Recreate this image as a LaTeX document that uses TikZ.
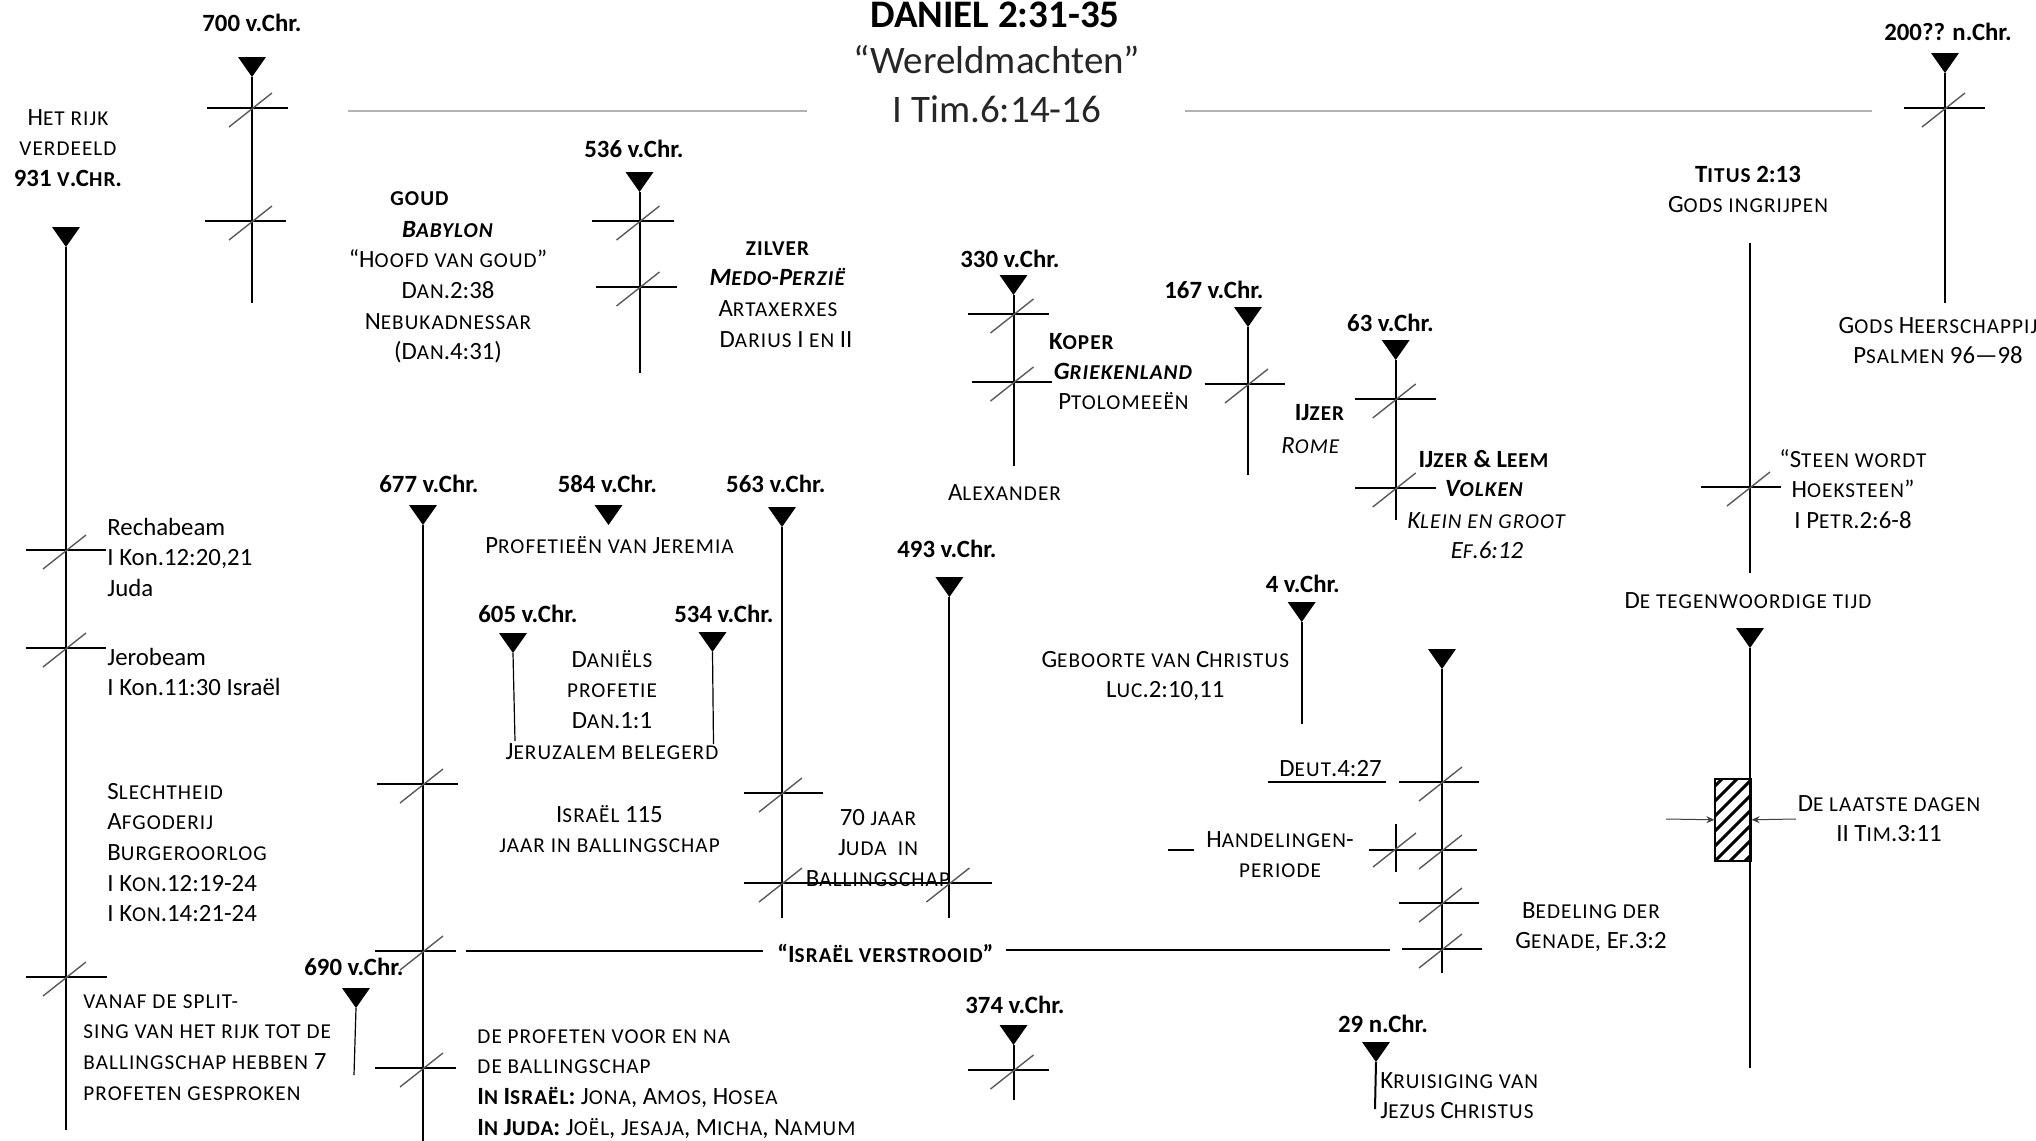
\documentclass[tikz,border=0pt]{standalone}
\usepackage{fontspec}
\setmainfont{Carlito}
\newfontfamily\scfam[LetterSpace=5]{Carlito}
\usetikzlibrary{arrows.meta}
\newcommand\smc[1]{{\scfam\fontsize{10.6}{15.35}\selectfont #1}}
\newcommand\blk[2]{\begin{tabular}[t]{@{}#1@{}}#2\end{tabular}}
\newcommand\tline[6][]{\coordinate (#2a) at (#3,#4); \coordinate (#2e) at (#5,#6);
  \draw[vline,#1] (#2a) -- (#2e); \pic at (#2a) {downtri};}
\newcommand\tk[4]{\draw[hline] (#3,#2) -- (#4,#2); \draw[diag] (#1-23,#2+19) -- (#1+20,#2-15);}
\begin{document}
\begin{tikzpicture}[x=0.5pt,y=-0.5pt,
  txt/.style={inner sep=0pt, anchor=base, align=center, font=\fontsize{12.4}{15.35}\selectfont},
  txtl/.style={txt, anchor=base west},
  dat/.style={txt, font=\fontsize{12.4}{15.35}\selectfont\bfseries},
  big/.style={txt, font=\fontsize{19.5}{22}\selectfont, text=black!85},
  vline/.style={line width=1pt},
  thin/.style={line width=0.6pt},
  hline/.style={line width=0.9pt},
  diag/.style={line width=0.7pt, black!65},
  titleline/.style={line width=1.3pt, black!30},
  arr/.style={-{Stealth[length=4pt,width=3.5pt]}, line width=0.5pt, black!75},
  downtri/.pic={\fill (-14,-20) -- (14,-20) -- (0,0) -- cycle;}
]
\useasboundingbox (0,0) rectangle (2036,1141);

% ---------- title ----------
\node[txt,font=\fontsize{19.5}{22}\selectfont\bfseries] (title) at (995,27) {DANIEL 2:31-35};
\node[big] (sub) at (997,73) {“Wereldmachten”};
\node[big] (ref) at (997,122) {I Tim.6:14-16};
\coordinate (tlA) at (348,111); \coordinate (tlB) at (807,111);
\coordinate (tlC) at (1185,111); \coordinate (tlD) at (1872,111);
\draw[titleline] (tlA) -- (tlB);
\draw[titleline] (tlC) -- (tlD);

% ---------- timelines ----------
\tline{r931}{66}{247}{66}{1130}
\tline{r700}{252}{77}{252}{303}
\tline{r536}{639.5}{192}{639.5}{373}
\tline{r330}{1013.5}{295}{1013.5}{466}
\tline{r167}{1248}{327}{1248}{475}
\tline{r63}{1395.7}{360}{1395.7}{520}
\tline{r200}{1945}{73}{1945}{303}
\tline{r677}{423}{525}{423}{1141}
\tline{r563}{782}{527}{782}{918}
\tline{r493}{949.4}{597}{949.4}{918}
\tline[thin]{r605}{513}{653}{515}{741}
\tline[thin]{r534}{712.5}{652}{713.5}{744}
\tline{r4}{1301.7}{622}{1301.7}{724}
\tline{rgr}{1442}{669}{1442}{973}
\tline[thin]{r690}{356}{1008}{354}{1075}
\tline{r374}{1013.5}{1045}{1013.5}{1100}
\tline{r29}{1376}{1062}{1375}{1109}
\tline{rnow}{1750}{648}{1750}{1068}
\coordinate (r584a) at (608.5,525); \pic at (r584a) {downtri};
\coordinate (tiA) at (1750,243); \coordinate (tiB) at (1750,573);
\draw[vline] (tiA) -- (tiB);

% ---------- ticks ----------
\tk{66}{550}{26}{106}
\tk{66}{648}{26}{106}
\tk{66}{977}{26}{107}
\tk{252}{108}{207}{288}
\tk{252}{221}{205}{286}
\tk{639.5}{221}{592}{674}
\tk{639.5}{287}{596}{677}
\tk{1013.5}{314}{968}{1048.6}
\tk{1013.5}{382}{971.6}{1051.7}
\tk{1248}{384}{1204.5}{1285}
\tk{1395.7}{399}{1355.4}{1436}
\tk{1395.7}{488}{1355.4}{1436}
\tk{1945}{108}{1904}{1985}
\tk{1750}{487}{1701}{1781}
\tk{423}{784}{377}{458}
\tk{423}{951}{375}{456}
\tk{423}{1068}{375}{456}
\tk{782}{793}{744}{823.4}
\tk{782}{883}{744}{991.8}
\draw[diag] (949.4-23,883+19) -- (949.4+20,883-15);
\tk{1442}{782}{1398.8}{1479.3}
\tk{1442}{850}{1368.8}{1477.3}
\draw[hline] (1395.6,824) -- (1395.6,872);
\draw[diag] (1373,867) -- (1416,833);
\tk{1442}{903}{1398.8}{1479.3}
\tk{1442}{949}{1401.9}{1482.4}
\tk{1013.5}{1070}{968}{1048.6}

% ---------- other lines ----------
\coordinate (iv1) at (466,951); \coordinate (iv2) at (763.4,951);
\coordinate (iv3) at (1006,950); \coordinate (iv4) at (1389.5,950);
\draw[hline] (iv1) -- (iv2);
\draw[hline] (iv3) -- (iv4);
\coordinate (du1) at (1267.6,782); \coordinate (du2) at (1386.3,782);
\draw[hline] (du1) -- (du2);
\coordinate (hl1) at (1168.4,850); \coordinate (hl2) at (1194,850);
\draw[hline] (hl1) -- (hl2);

% ---------- hatched box ----------
\node[draw, line width=0.8pt, minimum width=17.8pt, minimum height=41pt, inner sep=0pt,
  anchor=north west,
  path picture={\foreach \k in {0,...,10}{\draw[line width=1.5pt]
     ([xshift=\k*7.5pt-45pt]path picture bounding box.south west) -- ++(50pt,50pt);}}]
  (hbox) at (1714.4,778) {};
\coordinate (la1) at (1666,819); \coordinate (la2) at (1796,819);
\draw[arr] (la1) -- (hbox.west);
\draw[arr] (la2) -- (hbox.east);

% ---------- dates ----------
\node[dat] (d700) at (252,31) {700 v.Chr.};
\node[dat] (d536) at (634,157) {536 v.Chr.};
\node[dat] (d330) at (1010,267) {330 v.Chr.};
\node[dat] (d167) at (1214,298) {167 v.Chr.};
\node[dat] (d63) at (1390.5,331) {63 v.Chr.};
\node[dat] (d200) at (1948,40) {200?? n.Chr.};
\node[dat] (d677) at (429,492) {677 v.Chr.};
\node[dat] (d584) at (607.4,492) {584 v.Chr.};
\node[dat] (d563) at (775.8,492) {563 v.Chr.};
\node[dat] (d605) at (528,622) {605 v.Chr.};
\node[dat] (d534) at (724,622) {534 v.Chr.};
\node[dat] (d493) at (947,557) {493 v.Chr.};
\node[dat] (d4) at (1302.8,592) {4 v.Chr.};
\node[dat] (d690) at (354,975) {690 v.Chr.};
\node[dat] (d374) at (1015,1013) {374 v.Chr.};
\node[dat] (d29) at (1383,1032) {29 n.Chr.};

% ---------- texts ----------
\node[txt] (rijk) at (68,125) {\blk{c}{H\smc{ET RIJK}\\ \smc{VERDEELD}\\ \textbf{931 \smc{V}.C\smc{HR}.}}};
\node[txtl] (recha) at (107,535) {\blk{l}{Rechabeam\\I Kon.12:20,21\\Juda}};
\node[txtl] (jero) at (107,665) {\blk{l}{Jerobeam\\I Kon.11:30 Israël}};
\node[txtl] (slecht) at (107,799) {\blk{l}{S\smc{LECHTHEID}\\A\smc{FGODERIJ}\\B\smc{URGEROORLOG}\\I K\smc{ON}.12:19-24\\I K\smc{ON}.14:21-24}};
\node[txtl] (vanaf) at (83,1008) {\blk{l}{\smc{VANAF DE SPLIT-}\\\smc{SING VAN HET RIJK TOT DE}\\\smc{BALLINGSCHAP HEBBEN} 7\\\smc{PROFETEN GESPROKEN}}};

\node[txt] (goud) at (420,205) {\textbf{\smc{GOUD}}};
\node[txt] (babylon) at (448,237) {\blk{c}{\textbf{\textit{B\smc{ABYLON}}}\\“H\smc{OOFD VAN GOUD}”\\D\smc{AN}.2:38\\N\smc{EBUKADNESSAR}\\(D\smc{AN}.4:31)}};

\node[txt] (zilver) at (778,255) {\blk{c}{\textbf{\smc{ZILVER}}\\\textbf{\textit{M\smc{EDO}-P\smc{ERZIË}}}\\A\smc{RTAXERXES}}};
\node[txt] (darius) at (786,347) {D\smc{ARIUS} I \smc{EN} II};

\node[txtl] (koper) at (1048.6,349) {\textbf{K\smc{OPER}}};
\node[txt] (griek) at (1123.5,379) {\blk{c}{\textbf{\textit{G\smc{RIEKENLAND}}}\\P\smc{TOLOMEEËN}}};
\node[txt] (alex) at (1004.5,500) {A\smc{LEXANDER}};
\node[txt] (ijzer) at (1320,420) {\textbf{IJ\smc{ZER}}};
\node[txt] (rome) at (1311,453) {\textit{R\smc{OME}}};
\node[txt] (leem) at (1484,467) {\textbf{IJ\smc{ZER} \& L\smc{EEM}}};
\node[txt] (volken) at (1484.5,496) {\textbf{\textit{V\smc{OLKEN}}}};
\node[txt] (klein) at (1487,528) {\blk{c}{\textit{K\smc{LEIN EN GROOT}}\\\textit{E\smc{F}.6:12}}};

\node[txt] (titus) at (1748,182) {\blk{c}{\textbf{T\smc{ITUS} 2:13}\\G\smc{ODS INGRIJPEN}}};
\node[txt] (heer) at (1938,333) {\blk{c}{G\smc{ODS} H\smc{EERSCHAPPIJ}\\P\smc{SALMEN} 96—98}};
\node[txt] (steen) at (1853,467) {\blk{c}{“S\smc{TEEN WORDT}\\H\smc{OEKSTEEN}”\\I P\smc{ETR}.2:6-8}};
\node[txt] (tegen) at (1748,608) {D\smc{E TEGENWOORDIGE TIJD}};
\node[txt] (laatste) at (1889,811) {\blk{c}{D\smc{E LAATSTE DAGEN}\\II T\smc{IM}.3:11}};
\node[txt] (bedel) at (1591,918) {\blk{c}{B\smc{EDELING DER}\\G\smc{ENADE}, E\smc{F}.3:2}};

\node[txt] (jer) at (609.5,553) {P\smc{ROFETIEËN VAN} J\smc{EREMIA}};
\node[txt] (daniel) at (612,667) {\blk{c}{D\smc{ANIËLS}\\\smc{PROFETIE}\\D\smc{AN}.1:1\\J\smc{ERUZALEM BELEGERD}}};
\node[txt] (isr115) at (609.5,822) {\blk{c}{I\smc{SRAËL} 115\\\smc{JAAR IN BALLINGSCHAP}}};
\node[txt] (jaar70) at (878,825) {\blk{c}{70 \smc{JAAR}\\J\smc{UDA}\ \ \smc{IN}\\B\smc{ALLINGSCHAP}}};
\node[txt,font=\fontsize{12.4}{15.35}\selectfont\bfseries] (verstr) at (885.4,962) {“I\smc{SRAËL VERSTROOID}”};
\node[txt] (geb) at (1165.3,667) {\blk{c}{G\smc{EBOORTE VAN} C\smc{HRISTUS}\\L\smc{UC}.2:10,11}};
\node[txt] (deut) at (1330.6,776) {D\smc{EUT}.4:27};
\node[txt] (hand) at (1280,847) {\blk{c}{H\smc{ANDELINGEN}-\\\smc{PERIODE}}};
\node[txtl] (kruis) at (1380,1088) {\blk{l}{K\smc{RUISIGING VAN}\\J\smc{EZUS} C\smc{HRISTUS}}};
\node[txtl] (prof) at (477,1043) {\blk{l}{\smc{DE PROFETEN VOOR EN NA}\\\smc{DE BALLINGSCHAP}\\\textbf{I\smc{N} I\smc{SRAËL}:} J\smc{ONA}, A\smc{MOS}, H\smc{OSEA}\\\textbf{I\smc{N} J\smc{UDA}:} J\smc{OËL}, J\smc{ESAJA}, M\smc{ICHA}, N\smc{AMUM}}};
\end{tikzpicture}
\end{document}
